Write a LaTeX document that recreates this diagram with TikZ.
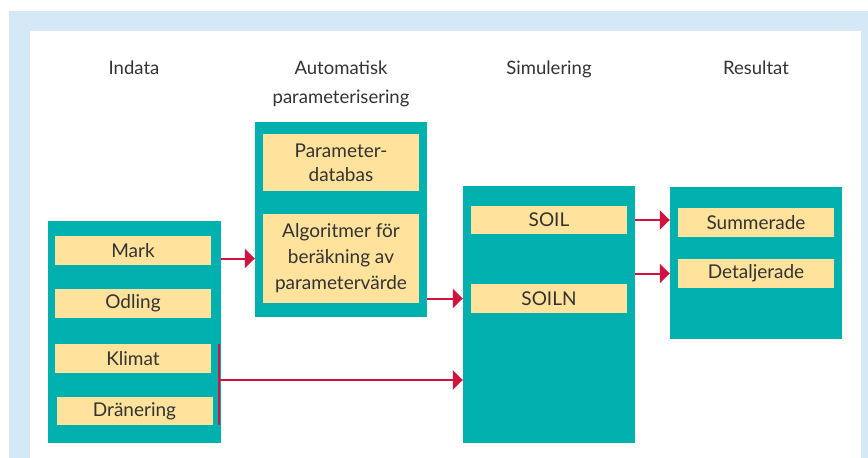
\documentclass[tikz,border=0pt]{standalone}
\usepackage{fontspec}
\setmainfont{Lato}
\usetikzlibrary{arrows.meta}
\definecolor{frameblue}{HTML}{D5E8F5}
\definecolor{teal}{HTML}{00B0AF}
\definecolor{sand}{HTML}{FFE29B}
\definecolor{flow}{HTML}{D2133F}
\definecolor{ink}{HTML}{333333}
\tikzset{
  panel/.style={fill=teal, draw=none, inner sep=0pt},
  item/.style={fill=sand, draw=none, inner sep=0pt, minimum width=156pt,
    text=ink, font=\fontsize{19}{26}\selectfont, align=center},
  heading/.style={text=ink, font=\fontsize{18.5}{26}\selectfont, anchor=base, inner sep=0pt},
  flowarrow/.style={draw=flow, line width=2pt, -{Triangle[length=10pt,width=19pt]}},
  flowline/.style={draw=flow, line width=2pt}
}
\begin{document}
\begin{tikzpicture}[x=1pt,y=-1pt]
\useasboundingbox (0,0) rectangle (868,458);
% frame
\fill[frameblue] (9,11) rectangle (868,458);
\fill[white] (30,31) rectangle (861,458);

% column headings
\node[heading] (hin) at (134,74) {Indata};
\node[heading] (hauto1) at (341,74) {Automatisk};
\node[heading] (hauto2) at (341,103) {parameterisering};
\node[heading] (hsim) at (549,74) {Simulering};
\node[heading] (hres) at (756,74) {Resultat};

% panels
\node[panel, minimum width=173pt, minimum height=222pt] (indata) at (134.5,332) {};
\node[panel, minimum width=172pt, minimum height=195pt] (auto) at (341,219.5) {};
\node[panel, minimum width=172pt, minimum height=257pt] (sim) at (549,314.5) {};
\node[panel, minimum width=172pt, minimum height=152pt] (res) at (756,263) {};

% input items
\node[item, minimum height=29pt] (mark) at (133,250.5) {Mark};
\node[item, minimum height=29pt] (odling) at (133,303.5) {Odling};
\node[item, minimum height=29pt] (klimat) at (133,358.5) {Klimat};
\node[item, minimum height=28pt] (dran) at (134.5,411) {Dränering};

% parameterisation items
\node[item, minimum height=57pt, font=\fontsize{19}{24}\selectfont] (pdb) at (341,162.5) {Parameter-\\databas};
\node[item, minimum height=89pt] (algo) at (341,258.5) {Algoritmer för\\beräkning av\\parametervärde};

% simulation items
\node[item, minimum height=28pt] (soil) at (549,220) {SOIL};
\node[item, minimum height=29pt] (soiln) at (549,298.5) {SOILN};

% result items
\node[item, minimum height=29pt] (summ) at (756,222.5) {Summerade};
\node[item, minimum height=29pt] (detalj) at (756,273.5) {Detaljerade};

% connectors
\draw[flowarrow] (indata.east |- algo.center) -- (auto.west |- algo.center);
\draw[flowarrow] (auto.east |- soiln.center) -- (sim.west |- soiln.center);
\draw[flowarrow] (sim.east |- soil.center) -- (res.west |- soil.center);
\draw[flowarrow] (sim.east |- detalj.center) -- (res.west |- detalj.center);

% climate and drainage feed the simulation directly
\coordinate (bartop) at ([xshift=-2pt]indata.east |- klimat.north);
\coordinate (barbot) at ([xshift=-2pt]indata.east |- dran.south);
\coordinate (barmid) at ([xshift=-2pt]indata.east |- 0,380);
\draw[flowline] (bartop) -- (barbot);
\draw[flowarrow] (barmid) -- (sim.west |- barmid);
\end{tikzpicture}
\end{document}
